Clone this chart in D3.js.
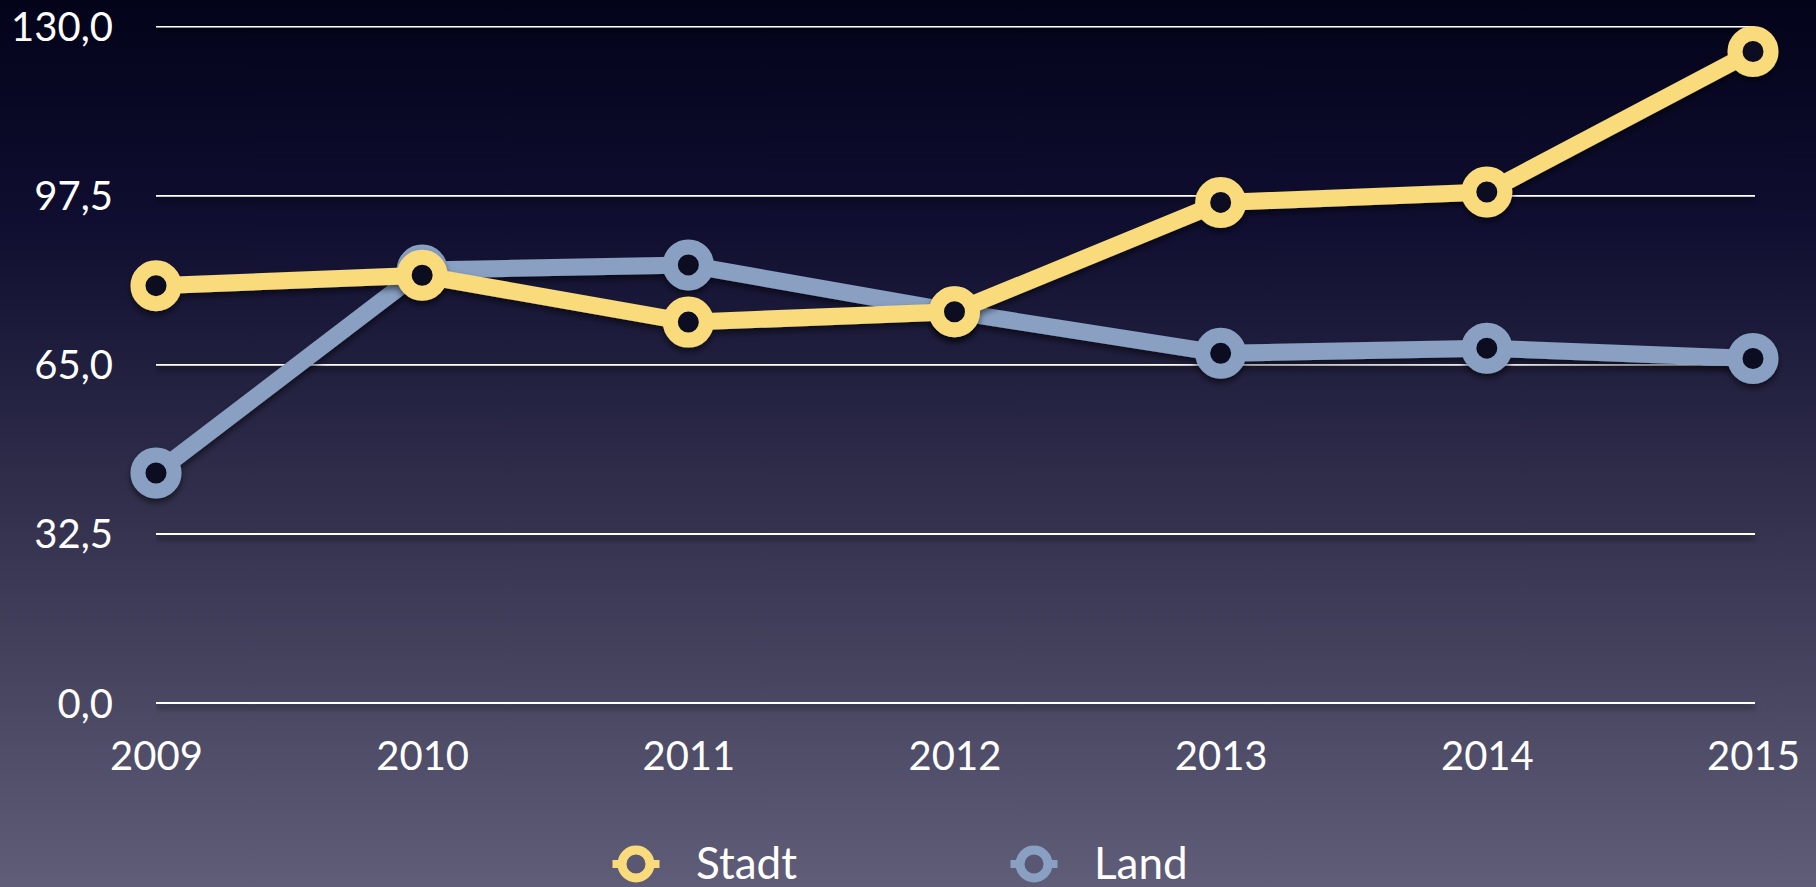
<!DOCTYPE html>
<html>
<head>
<meta charset="utf-8">
<script src="https://cdn.jsdelivr.net/npm/d3@7"></script>
<style>
  body { margin: 0; background: #000; }
  svg { display: block; }
</style>
</head>
<body>
<div id="chart"></div>
<script>
// data
const years = ["2009", "2010", "2011", "2012", "2013", "2014", "2015"];
const stadt = [80, 82, 73, 75, 96, 98, 125];
const land = [44, 83, 84, 75, 67, 68, 66];
const yTicks = [0, 32.5, 65, 97.5, 130];
const seriesNames = ["Stadt", "Land"];

const width = 1816, height = 887;
const colors = { Stadt: "#f9db7b", Land: "#89a0c3" };
const font = "'Lato', 'Open Sans', sans-serif";

const svg = d3.select("#chart").append("svg")
    .attr("width", width)
    .attr("height", height);

const defs = svg.append("defs");

const grad = defs.append("linearGradient")
    .attr("id", "bg")
    .attr("x1", 0).attr("y1", 0).attr("x2", 0).attr("y2", 1);
grad.append("stop").attr("offset", "0%").attr("stop-color", "#03031a");
grad.append("stop").attr("offset", "25%").attr("stop-color", "#0f0e30");
grad.append("stop").attr("offset", "60%").attr("stop-color", "#35334f");
grad.append("stop").attr("offset", "100%").attr("stop-color", "#605d78");

// user space filter so flat lines keep their shadow
const shadow = defs.append("filter")
    .attr("id", "shadow")
    .attr("filterUnits", "userSpaceOnUse")
    .attr("x", 0).attr("y", 0)
    .attr("width", width).attr("height", height);
shadow.append("feDropShadow")
    .attr("dx", 0).attr("dy", 4)
    .attr("stdDeviation", 3)
    .attr("flood-color", "#000")
    .attr("flood-opacity", 0.55);

svg.append("rect")
    .attr("width", width)
    .attr("height", height)
    .attr("fill", "url(#bg)");

const x = d3.scalePoint()
    .domain(years)
    .range([156, 1753]);

const y = d3.scaleLinear()
    .domain([0, 130])
    .range([702, 25.5]);

const de = d3.formatLocale({ decimal: ",", thousands: ".", grouping: [3], currency: ["", " €"] });
const fmt = de.format(".1f");

// y axis with gridlines
const yAxis = svg.append("g")
    .attr("transform", `translate(${x.range()[0]},0)`)
    .call(d3.axisLeft(y)
        .tickValues(yTicks)
        .tickSize(-(1755 - x.range()[0]))
        .tickPadding(43)
        .tickFormat(fmt))
    .call(g => g.select(".domain").remove());

yAxis.selectAll(".tick line")
    .attr("stroke", "#ffffff")
    .attr("stroke-width", 3)
    .attr("filter", "url(#shadow)");

yAxis.selectAll(".tick text")
    .attr("fill", "#ffffff")
    .attr("dy", 15)
    .style("font-family", font)
    .style("font-size", "40px");

// x axis labels
const xAxis = svg.append("g")
    .attr("transform", `translate(0,${y(0)})`)
    .call(d3.axisBottom(x).tickSize(0))
    .call(g => g.select(".domain").remove());

xAxis.selectAll(".tick text")
    .attr("fill", "#ffffff")
    .attr("y", 68)
    .attr("dy", 0)
    .style("font-family", font)
    .style("font-size", "40px");

const line = d3.line()
    .x((d, i) => x(years[i]))
    .y(d => y(d));

function drawSeries(name, values) {
    const g = svg.append("g").attr("filter", "url(#shadow)");
    g.append("path")
        .datum(values)
        .attr("d", line)
        .attr("fill", "none")
        .attr("stroke", colors[name])
        .attr("stroke-width", 17)
        .attr("stroke-linejoin", "round");
    g.selectAll("circle")
        .data(values)
        .join("circle")
        .attr("cx", (d, i) => x(years[i]))
        .attr("cy", d => y(d))
        .attr("r", 18)
        .attr("fill", "#0c0b24")
        .attr("stroke", colors[name])
        .attr("stroke-width", 15);
}

drawSeries("Land", land);
drawSeries("Stadt", stadt);

// legend
const legendX = [636, 1034];
const legend = svg.append("g");
const items = legend.selectAll("g")
    .data(seriesNames)
    .join("g")
    .attr("transform", (d, i) => `translate(${legendX[i]},864)`);

items.append("line")
    .attr("x1", -23.5).attr("x2", 23.5)
    .attr("stroke", d => colors[d])
    .attr("stroke-width", 8);
items.append("circle")
    .attr("r", 14)
    .attr("fill", "#5a5772")
    .attr("stroke", d => colors[d])
    .attr("stroke-width", 9);
items.append("text")
    .attr("x", 60)
    .attr("y", 15)
    .attr("fill", "#ffffff")
    .style("font-family", font)
    .style("font-size", "44px")
    .text(d => d);
</script>
</body>
</html>
